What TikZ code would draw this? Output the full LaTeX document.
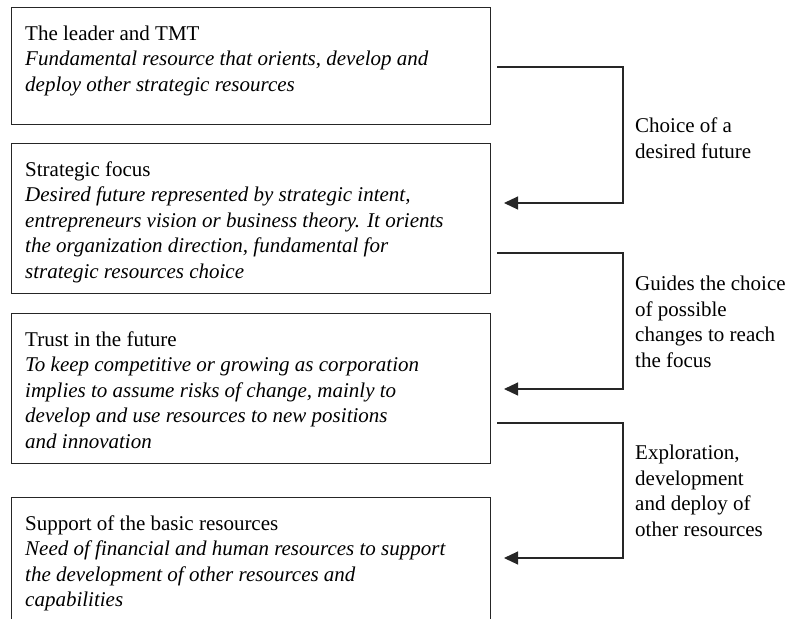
\documentclass[tikz,border=0pt]{standalone}
\usepackage{fontspec}
\setmainfont{Liberation Serif}
\usetikzlibrary{arrows.meta}
\begin{document}
\begin{tikzpicture}[x=1pt,y=-1pt,
  box/.style={draw=black!85, line width=1.1pt, anchor=north west, minimum width=479pt, inner sep=0pt},
  txt/.style={anchor=north west, inner sep=0pt, align=left, font=\fontsize{21}{25.5}\selectfont},
  conn/.style={draw=black!85, line width=1.1pt, -{Triangle[length=14pt,width=13pt]}}]
\useasboundingbox (0,0) rectangle (789,618);
\clip (0,0) rectangle (789,618);
% boxes
\node[box, minimum height=117pt] (b1) at (11,7) {};
\node[box, minimum height=150pt] (b2) at (11,143) {};
\node[box, minimum height=150pt] (b3) at (11,313) {};
\node[box, minimum height=140pt] (b4) at (11,497) {};
% box texts
\node[txt] (t1) at (25,25.5) {The leader and TMT\\
  \textit{Fundamental resource that orients, develop and}\\
  \textit{deploy other strategic resources}};
\node[txt] (t2) at (25,161.5) {Strategic focus\\
  \textit{Desired future represented by strategic intent,}\\
  \textit{entrepreneurs vision or business theory. It orients}\\
  \textit{the organization direction, fundamental for}\\
  \textit{strategic resources choice}};
\node[txt] (t3) at (25,331.5) {Trust in the future\\
  \textit{To keep competitive or growing as corporation}\\
  \textit{implies to assume risks of change, mainly to}\\
  \textit{develop and use resources to new positions}\\
  \textit{and innovation}};
\node[txt] (t4) at (25,515.5) {Support of the basic resources\\
  \textit{Need of financial and human resources to support}\\
  \textit{the development of other resources and}\\
  \textit{capabilities}};
% connectors
\coordinate (s1) at (497,67);  \coordinate (e1) at (504,203);
\coordinate (s2) at (497,253); \coordinate (e2) at (504,389);
\coordinate (s3) at (497,423); \coordinate (e3) at (504,558);
\draw[conn] (s1) -- ++(126,0) |- (e1);
\draw[conn] (s2) -- ++(126,0) |- (e2);
\draw[conn] (s3) -- ++(126,0) |- (e3);
% labels
\node[txt] (l1) at (635,118) {Choice of a\\ desired future};
\node[txt] (l2) at (635,276) {Guides the choice\\ of possible\\ changes to reach\\ the focus};
\node[txt] (l3) at (635,445) {Exploration,\\ development\\ and deploy of\\ other resources};
\end{tikzpicture}
\end{document}
